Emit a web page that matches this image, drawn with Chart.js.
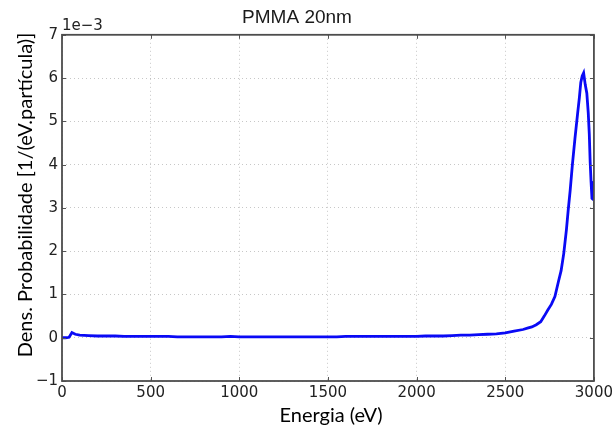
<!DOCTYPE html>
<html>
<head>
<meta charset="utf-8">
<script src="https://cdn.jsdelivr.net/npm/chart.js@4.4.0/dist/chart.umd.min.js"></script>
<style>
  html, body { margin: 0; padding: 0; background: #fff; }
  #grafico { display: block; }
</style>
</head>
<body>
<canvas id="grafico" width="616" height="430"></canvas>
<script>
'use strict';

// Energy grid (eV) and probability density in units of 1e-3 / (eV.particle)
const energia = [
  0, 20, 40, 56, 75, 100, 150, 200, 250, 300, 350, 400, 450, 500, 550, 600,
  650, 700, 750, 800, 850, 900, 950, 1000, 1050, 1100, 1150, 1200, 1250, 1300,
  1350, 1400, 1450, 1500, 1550, 1600, 1650, 1700, 1750, 1800, 1850, 1900, 1950,
  2000, 2050, 2100, 2150, 2200, 2250, 2300, 2350, 2400, 2450, 2500, 2550, 2600,
  2625, 2650, 2675, 2700, 2720, 2740, 2760, 2780, 2800, 2815, 2830, 2845, 2855,
  2866, 2879, 2893, 2908, 2918, 2926, 2934, 2942, 2951, 2960, 2968, 2974, 2979,
  2984, 2989, 2995, 3000
];
const densidade = [
  0.00, 0.00, 0.01, 0.12, 0.08, 0.06, 0.05, 0.04, 0.04, 0.04, 0.03, 0.03, 0.03, 0.03, 0.03, 0.03,
  0.02, 0.02, 0.02, 0.02, 0.02, 0.02, 0.03, 0.02, 0.02, 0.02, 0.02, 0.02, 0.02, 0.02,
  0.02, 0.02, 0.02, 0.02, 0.02, 0.03, 0.03, 0.03, 0.03, 0.03, 0.03, 0.03, 0.03,
  0.03, 0.04, 0.04, 0.04, 0.05, 0.06, 0.06, 0.07, 0.08, 0.09, 0.11, 0.15, 0.19,
  0.22, 0.25, 0.30, 0.37, 0.50, 0.64, 0.77, 0.95, 1.30, 1.55, 1.95, 2.50, 2.95,
  3.40, 4.02, 4.60, 5.18, 5.55, 5.90, 6.05, 6.12, 5.85, 5.65, 5.20, 4.70, 4.05,
  3.60, 3.22, 3.20, 3.62
];

const xTicks = [0, 500, 1000, 1500, 2000, 2500, 3000];
const yTicks = [-1, 0, 1, 2, 3, 4, 5, 6, 7];
const fatorEscala = '1e\u22123';

const fonteTicks = { family: '"DejaVu Sans", sans-serif', size: 15 };
const fonteEixo = '20px Lato, "Open Sans", sans-serif';

// Frame, inward ticks on all four sides, axis labels and the offset text
const moldura = {
  id: 'moldura',
  afterDraw(chart) {
    const { ctx, chartArea: a, scales } = chart;
    ctx.save();
    ctx.strokeStyle = '#555';
    ctx.lineWidth = 1;
    ctx.beginPath();
    xTicks.forEach((v) => {
      const px = Math.round(scales.x.getPixelForValue(v)) + 0.5;
      ctx.moveTo(px, a.bottom); ctx.lineTo(px, a.bottom - 4);
      ctx.moveTo(px, a.top); ctx.lineTo(px, a.top + 4);
    });
    yTicks.forEach((v) => {
      const py = Math.round(scales.y.getPixelForValue(v)) + 0.5;
      ctx.moveTo(a.left, py); ctx.lineTo(a.left + 4, py);
      ctx.moveTo(a.right, py); ctx.lineTo(a.right - 4, py);
    });
    ctx.stroke();

    ctx.lineWidth = 1.8;
    ctx.strokeStyle = '#4d4d4d';
    ctx.strokeRect(a.left, a.top, a.right - a.left, a.bottom - a.top);

    ctx.fillStyle = '#222';
    ctx.font = '15px "DejaVu Sans", sans-serif';
    ctx.textAlign = 'left';
    ctx.textBaseline = 'alphabetic';
    ctx.fillText(fatorEscala, a.left, a.top - 5);

    ctx.fillStyle = '#000';
    ctx.font = fonteEixo;
    ctx.textAlign = 'center';
    ctx.fillText('Energia (eV)', 331, 422);

    ctx.translate(32, 195);
    ctx.rotate(-Math.PI / 2);
    ctx.fillText('Dens. Probabilidade [1/(eV.partícula)]', 0, 0);
    ctx.restore();
  }
};

new Chart(document.getElementById('grafico'), {
  type: 'line',
  data: {
    datasets: [{
      data: energia.map((e, i) => ({ x: e, y: densidade[i] })),
      borderColor: '#0a0af5',
      borderWidth: 2.8,
      pointRadius: 0,
      tension: 0,
      fill: false
    }]
  },
  options: {
    responsive: false,
    animation: false,
    layout: { padding: { left: 0, right: 22, top: 0, bottom: 0 } },
    plugins: {
      legend: { display: false },
      tooltip: { enabled: false },
      title: {
        display: true,
        text: 'PMMA 20nm',
        color: '#1a1a1a',
        font: { family: '"Liberation Sans", Arial, sans-serif', size: 19, weight: 'normal' },
        padding: { top: 6, bottom: 6 }
      }
    },
    scales: {
      x: {
        type: 'linear',
        min: 0,
        max: 3000,
        afterFit: (s) => { s.height = 49; },
        afterBuildTicks: (s) => { s.ticks = xTicks.map((v) => ({ value: v })); },
        ticks: { color: '#222', font: fonteTicks, padding: 3, maxRotation: 0, callback: (v) => String(v) },
        grid: { color: 'rgba(0,0,0,0.22)', drawTicks: false },
        border: { display: false, dash: [1, 3] }
      },
      y: {
        type: 'linear',
        min: -1,
        max: 7,
        afterFit: (s) => { s.width = 62; },
        afterBuildTicks: (s) => { s.ticks = yTicks.map((v) => ({ value: v })); },
        ticks: {
          color: '#222',
          font: fonteTicks,
          padding: 4,
          callback: (v) => (v < 0 ? '\u2212' + Math.abs(v) : String(v))
        },
        grid: { color: 'rgba(0,0,0,0.22)', drawTicks: false },
        border: { display: false, dash: [1, 3] }
      }
    }
  },
  plugins: [moldura]
});
</script>
</body>
</html>
